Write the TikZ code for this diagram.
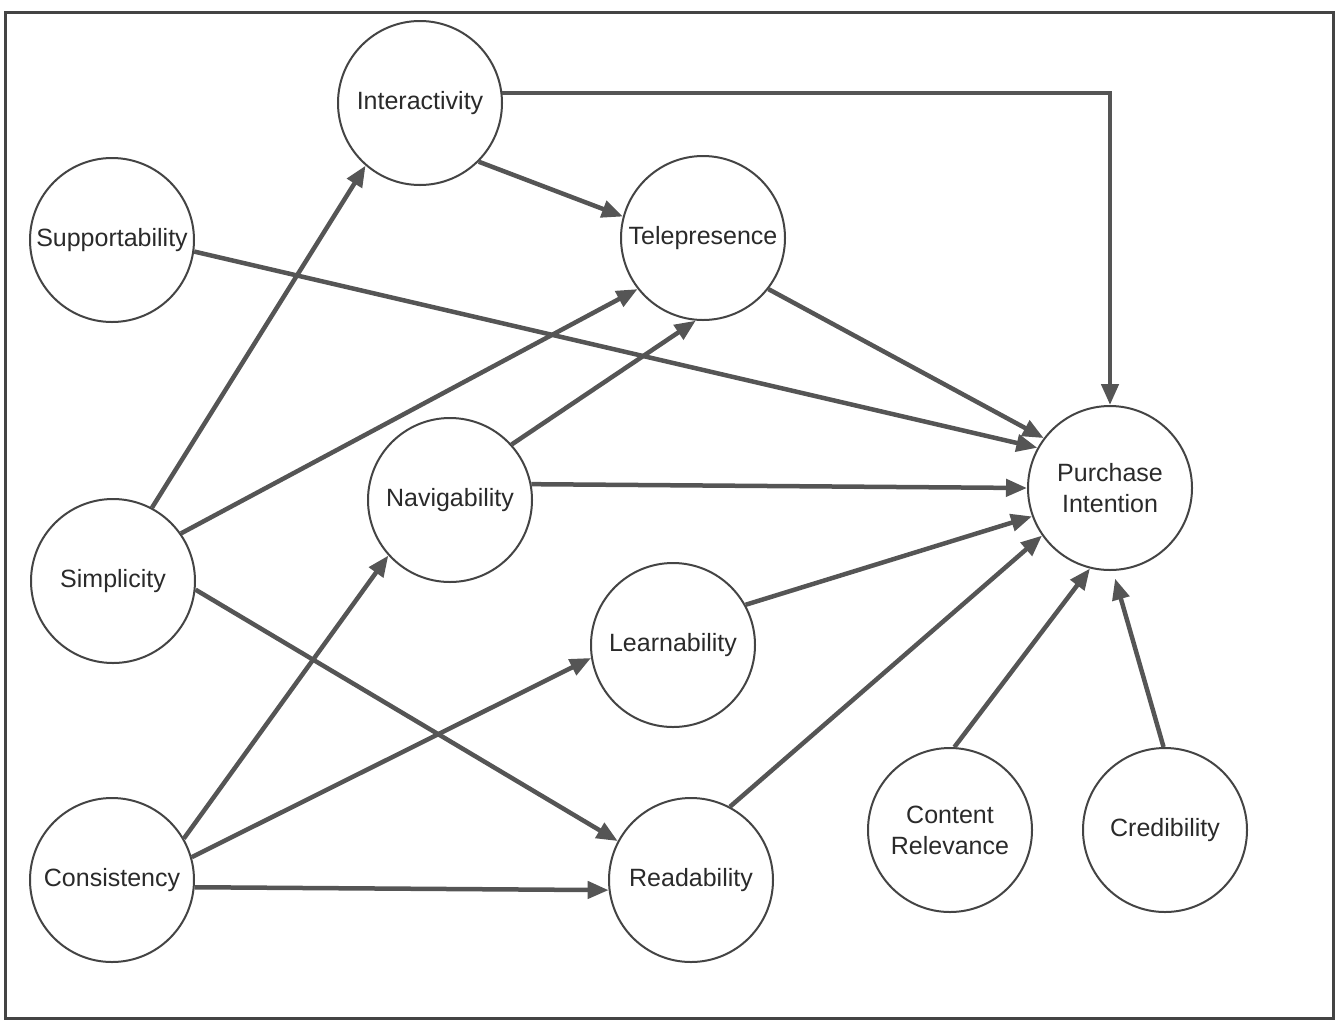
\documentclass[tikz,border=0pt]{standalone}
\usepackage{fontspec}
\setmainfont{Liberation Sans}
\usetikzlibrary{arrows.meta}
\definecolor{arr}{HTML}{555555}
\definecolor{ring}{HTML}{444444}
\definecolor{txt}{HTML}{2A2A2A}
\begin{document}
\begin{tikzpicture}[x=1pt,y=-1pt,
  var/.style={circle,draw=ring,line width=2pt,fill=white,minimum size=164pt,inner sep=0pt,
    align=center,text=txt,font=\fontsize{25}{31}\selectfont},
  link/.style={draw=arr,line width=4.5pt,-{Triangle[length=21pt,width=17pt]}}]
\useasboundingbox (0,0) rectangle (1341,1029);
\draw[ring,line width=3pt] (5,12) rectangle (1333,1018);
\node[var] (inter) at (420,103) {Interactivity};
\node[var] (supp) at (112,240) {Supportability};
\node[var] (tele) at (703,238) {Telepresence};
\node[var] (simp) at (113,581) {Simplicity};
\node[var] (navi) at (450,500) {Navigability};
\node[var] (pi) at (1110,488) {Purchase\\Intention};
\node[var] (learn) at (673,645) {Learnability};
\node[var] (cons) at (112,880) {Consistency};
\node[var] (read) at (691,880) {Readability};
\node[var] (cont) at (950,830) {Content\\Relevance};
\node[var] (cred) at (1165,830) {Credibility};
% connectors
\draw[link] (inter.7) -| (pi.north);
\draw[link] (inter.-45) -- (tele.165);
\draw[link] (supp.-8) -- (pi.151);
\draw[link] (tele.-38) -- (pi.143);
\draw[link] (simp.62) -- (inter.229);
\draw[link] (simp.35) -- (tele.218);
\draw[link] (simp.-6) -- (read.152);
\draw[link] (navi.42) -- (tele.265);
\draw[link] (navi.11) -- (pi.180);
\draw[link] (learn.29) -- (pi.200);
\draw[link] (read.62) -- (pi.215);
\draw[link] (cont.87) -- (pi.256);
\draw[link,shorten >=8pt] (cred.91) -- (pi.272);
\draw[link] (cons.30) -- (navi.222);
\draw[link] (cons.16) -- (learn.189);
\draw[link] (cons.-5) -- (read.187);
\end{tikzpicture}
\end{document}
